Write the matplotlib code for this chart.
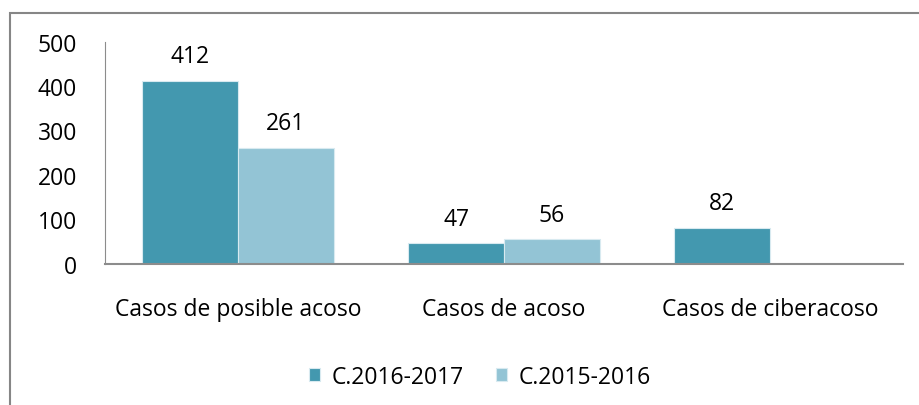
import matplotlib.pyplot as plt
import numpy as np
from matplotlib.patches import Rectangle

categories = ["Casos de posible acoso", "Casos de acoso", "Casos de ciberacoso"]
series_names = ["C.2016-2017", "C.2015-2016"]
vals_2016_2017 = [412, 47, 82]
vals_2015_2016 = [261, 56, None]
colors = ["#4398AF", "#93C4D5"]

plt.rcParams['font.family'] = ['Open Sans', 'DejaVu Sans']

fig = plt.figure(figsize=(9.19, 4.06), dpi=100)
ax = fig.add_axes([105 / 919, 1 - 265 / 406, 798 / 919, 222.5 / 406])

# chart border (only top/left visible in the reference)
fig.patches.append(Rectangle((10 / 919, -0.1), 1.2, (406 - 14) / 406 + 0.1,
                             transform=fig.transFigure, fill=False,
                             edgecolor="#868686", linewidth=1.5))

x = np.arange(len(categories))
w = 0.36
for i, (vals, name) in enumerate(zip([vals_2016_2017, vals_2015_2016], series_names)):
    xs = [xx for xx, v in zip(x, vals) if v is not None]
    vs = [v for v in vals if v is not None]
    bars = ax.bar(np.array(xs) + (i - 0.5) * w, vs, width=w, color=colors[i],
                  edgecolor="#D8EAF0", linewidth=0.8, label=name)
    for b, v in zip(bars, vs):
        ax.annotate(str(v), (b.get_x() + b.get_width() / 2, v), xytext=(0, 9),
                    textcoords="offset points", ha="center", va="bottom",
                    fontsize=16.5, color="black")

ax.set_xlim(-0.5, 2.5)
ax.set_ylim(0, 500)
ax.set_yticks([0, 100, 200, 300, 400, 500])
ax.set_xticks(x)
ax.set_xticklabels(categories)
ax.tick_params(axis="y", length=0, pad=20, labelsize=16.5)
ax.tick_params(axis="x", length=0, pad=24, labelsize=16.5)
for s in ["top", "right"]:
    ax.spines[s].set_visible(False)
ax.spines["left"].set_color("#8C8C8C")
ax.spines["bottom"].set_color("#8C8C8C")
ax.spines["bottom"].set_linewidth(1.5)

fig.legend(loc="center", bbox_to_anchor=(480 / 919, 1 - 378 / 406), ncol=2,
           frameon=False, fontsize=16.5, handlelength=0.5, handleheight=0.5,
           columnspacing=1.4, handletextpad=0.5)

fig.savefig("out.png", dpi=100)
